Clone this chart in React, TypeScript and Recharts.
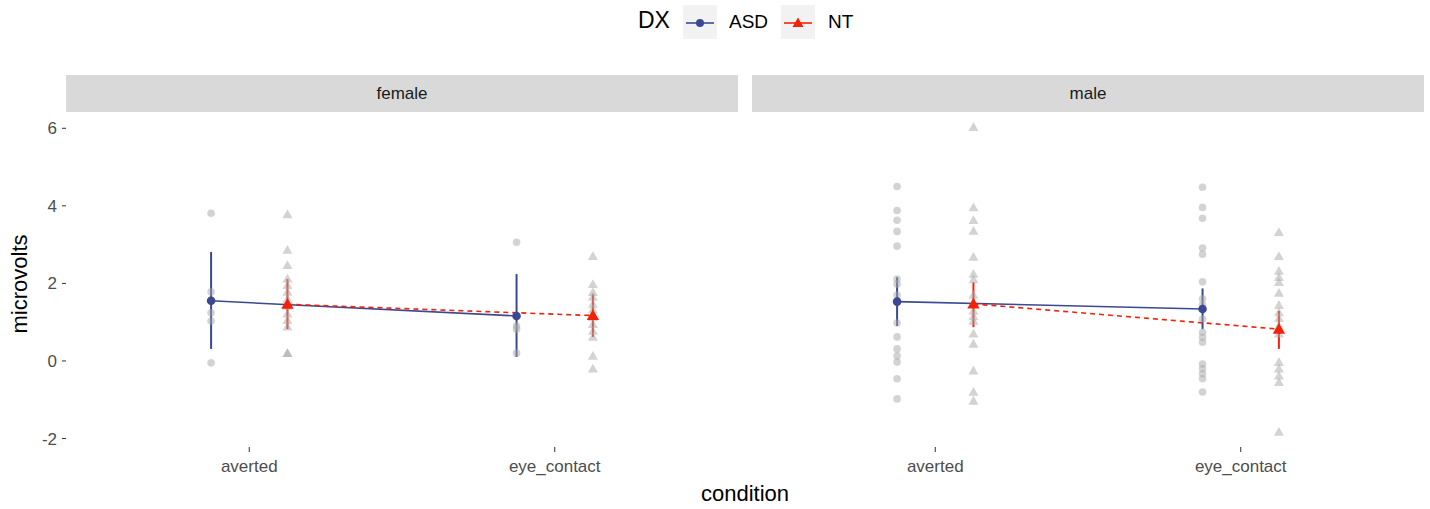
import React from "react";
import { ComposedChart, Scatter, Line, XAxis, YAxis, ErrorBar } from "recharts";

const conditions = ["averted", "eye_contact"];
const yTicks = [-2, 0, 2, 4, 6];

// individual observations, one list per condition
const femaleAsdRaw = [
  [3.81, 1.78, 1.55, 1.24, 1.03, -0.05],
  [3.06, 0.9, 0.82, 0.2],
];
const femaleNtRaw = [
  [3.78, 2.86, 2.47, 2.12, 1.95, 1.78, 1.6, 1.42, 1.22, 1.05, 0.88, 0.2, 0.2],
  [2.7, 1.98, 1.77, 1.65, 1.47, 1.33, 1.13, 0.95, 0.77, 0.62, 0.13, -0.2],
];
const maleAsdRaw = [
  [4.5, 3.88, 3.63, 3.34, 2.96, 2.11, 1.98, 1.7, 1.52, 0.98, 0.62, 0.31, 0.13, -0.03, -0.46, -0.98],
  [4.48, 3.96, 3.68, 2.91, 2.75, 2.04, 1.6, 1.45, 1.08, 0.74, 0.61, 0.48, -0.08, -0.2, -0.33, -0.46, -0.8],
];
const maleNtRaw = [
  [6.03, 3.96, 3.63, 3.35, 2.68, 2.24, 2.1, 1.7, 1.29, 1.15, 1.03, 0.7, 0.44, -0.25, -0.8, -1.03],
  [3.32, 2.7, 2.32, 2.16, 2.03, 1.75, 1.44, 1.25, 1.1, 0.9, 0.7, -0.03, -0.2, -0.38, -0.55, -1.83],
];

// means with lower / upper bounds
const femaleAsdMean = [1.55, 1.16];
const femaleAsdLow = [0.31, 0.1];
const femaleAsdHigh = [2.81, 2.24];
const femaleNtMean = [1.46, 1.17];
const femaleNtLow = [0.82, 0.62];
const femaleNtHigh = [2.11, 1.72];
const maleAsdMean = [1.53, 1.34];
const maleAsdLow = [0.9, 0.82];
const maleAsdHigh = [2.16, 1.87];
const maleNtMean = [1.47, 0.82];
const maleNtLow = [0.87, 0.31];
const maleNtHigh = [2.03, 1.29];

const ASD = "#3B4992";
const NT = "#F2220A";
const DODGE = 0.125;
const FONT = "'Liberation Sans', Arial, Helvetica, sans-serif";

const rawPoints = (lists: number[][], off: number) =>
  lists.flatMap((vals, i) => vals.map((v) => ({ x: i + 1 + off, y: v })));

const summary = (mean: number[], low: number[], high: number[], off: number) =>
  mean.map((m, i) => ({ x: i + 1 + off, y: m, err: [m - low[i], high[i] - m] }));

const GrayDot = (p: any) => (
  <circle cx={p.cx} cy={p.cy} r={3.8} fill="#a8a8a8" fillOpacity={0.5} />
);
const GrayTri = (p: any) => (
  <polygon
    points={`${p.cx},${p.cy - 5} ${p.cx - 5},${p.cy + 3.8} ${p.cx + 5},${p.cy + 3.8}`}
    fill="#a8a8a8"
    fillOpacity={0.5}
  />
);
const MeanDot = (p: any) => <circle cx={p.cx} cy={p.cy} r={4.3} fill={ASD} />;
const MeanTri = (p: any) => (
  <polygon
    points={`${p.cx},${p.cy - 6.2} ${p.cx - 6.2},${p.cy + 4.5} ${p.cx + 6.2},${p.cy + 4.5}`}
    fill={NT}
  />
);

interface PanelProps {
  asdRaw: number[][];
  ntRaw: number[][];
  asdMean: number[];
  asdLow: number[];
  asdHigh: number[];
  ntMean: number[];
  ntLow: number[];
  ntHigh: number[];
  showY: boolean;
  width: number;
}

function Panel(props: PanelProps) {
  const asdSum = summary(props.asdMean, props.asdLow, props.asdHigh, -DODGE);
  const ntSum = summary(props.ntMean, props.ntLow, props.ntHigh, DODGE);
  const tick = { fill: "#4D4D4D", fontSize: 17, fontFamily: FONT };
  return (
    <ComposedChart width={props.width} height={372} margin={{ top: 0, right: 0, bottom: 0, left: 0 }}>
      <XAxis
        type="number"
        dataKey="x"
        domain={[0.4, 2.6]}
        ticks={[1, 2]}
        tickFormatter={(v: number) => conditions[v - 1]}
        axisLine={false}
        tickLine={{ stroke: "#333333" }}
        tickSize={5}
        tickMargin={8}
        tick={tick}
        height={37}
        allowDataOverflow
      />
      <YAxis
        type="number"
        dataKey="y"
        domain={[-2.22, 6.42]}
        ticks={yTicks}
        hide={!props.showY}
        axisLine={false}
        tickLine={{ stroke: "#333333" }}
        tickSize={4}
        tickMargin={5}
        tick={tick}
        width={66}
        allowDataOverflow
      />
      <Scatter data={rawPoints(props.asdRaw, -DODGE)} dataKey="y" shape={GrayDot} isAnimationActive={false} />
      <Scatter data={rawPoints(props.ntRaw, DODGE)} dataKey="y" shape={GrayTri} isAnimationActive={false} />
      <Line data={asdSum} dataKey="y" stroke={ASD} strokeWidth={1.6} dot={false} isAnimationActive={false} />
      <Line
        data={ntSum}
        dataKey="y"
        stroke={NT}
        strokeWidth={1.6}
        strokeDasharray="5 4"
        dot={false}
        isAnimationActive={false}
      />
      <Scatter data={asdSum} dataKey="y" shape={MeanDot} isAnimationActive={false}>
        <ErrorBar dataKey="err" direction="y" width={0} stroke={ASD} strokeWidth={2} />
      </Scatter>
      <Scatter data={ntSum} dataKey="y" shape={MeanTri} isAnimationActive={false}>
        <ErrorBar dataKey="err" direction="y" width={0} stroke={NT} strokeWidth={2} />
      </Scatter>
    </ComposedChart>
  );
}

const stripStyle: React.CSSProperties = {
  position: "absolute",
  top: 75,
  height: 37,
  width: 672,
  background: "#D9D9D9",
  color: "#1A1A1A",
  fontSize: 17,
  lineHeight: "37px",
  textAlign: "center",
};

const keyBox: React.CSSProperties = {
  position: "absolute",
  top: 5,
  width: 34,
  height: 34,
  background: "#F2F2F2",
};

export default function App() {
  return (
    <div
      style={{
        position: "absolute",
        left: 0,
        top: 0,
        width: 1430,
        height: 509,
        background: "#fff",
        fontFamily: FONT,
        overflow: "hidden",
      }}
    >
      {/* legend */}
      <div style={{ position: "absolute", left: 638, top: 7, fontSize: 23, color: "#000" }}>DX</div>
      <div style={{ ...keyBox, left: 683 }}>
        <svg width={34} height={34}>
          <line x1={3} y1={18} x2={31} y2={18} stroke={ASD} strokeWidth={1.6} />
          <circle cx={17} cy={18} r={4} fill={ASD} />
        </svg>
      </div>
      <div style={{ position: "absolute", left: 729, top: 11, fontSize: 19 }}>ASD</div>
      <div style={{ ...keyBox, left: 781 }}>
        <svg width={34} height={34}>
          <line x1={3} y1={18} x2={31} y2={18} stroke={NT} strokeWidth={1.6} />
          <polygon points="17,12.5 11.5,22 22.5,22" fill={NT} />
        </svg>
      </div>
      <div style={{ position: "absolute", left: 828, top: 11, fontSize: 19 }}>NT</div>

      {/* facet strips */}
      <div style={{ ...stripStyle, left: 66 }}>female</div>
      <div style={{ ...stripStyle, left: 752 }}>male</div>

      <div style={{ position: "absolute", left: 0, top: 112 }}>
        <Panel
          asdRaw={femaleAsdRaw}
          ntRaw={femaleNtRaw}
          asdMean={femaleAsdMean}
          asdLow={femaleAsdLow}
          asdHigh={femaleAsdHigh}
          ntMean={femaleNtMean}
          ntLow={femaleNtLow}
          ntHigh={femaleNtHigh}
          showY
          width={738}
        />
      </div>
      <div style={{ position: "absolute", left: 752, top: 112 }}>
        <Panel
          asdRaw={maleAsdRaw}
          ntRaw={maleNtRaw}
          asdMean={maleAsdMean}
          asdLow={maleAsdLow}
          asdHigh={maleAsdHigh}
          ntMean={maleNtMean}
          ntLow={maleNtLow}
          ntHigh={maleNtHigh}
          showY={false}
          width={672}
        />
      </div>

      {/* axis titles */}
      <div
        style={{
          position: "absolute",
          left: 20,
          top: 284,
          transform: "translate(-50%, -50%) rotate(-90deg)",
          fontSize: 22,
          whiteSpace: "nowrap",
        }}
      >
        microvolts
      </div>
      <div
        style={{
          position: "absolute",
          left: 745,
          top: 494,
          transform: "translate(-50%, -50%)",
          fontSize: 22,
        }}
      >
        condition
      </div>
    </div>
  );
}
